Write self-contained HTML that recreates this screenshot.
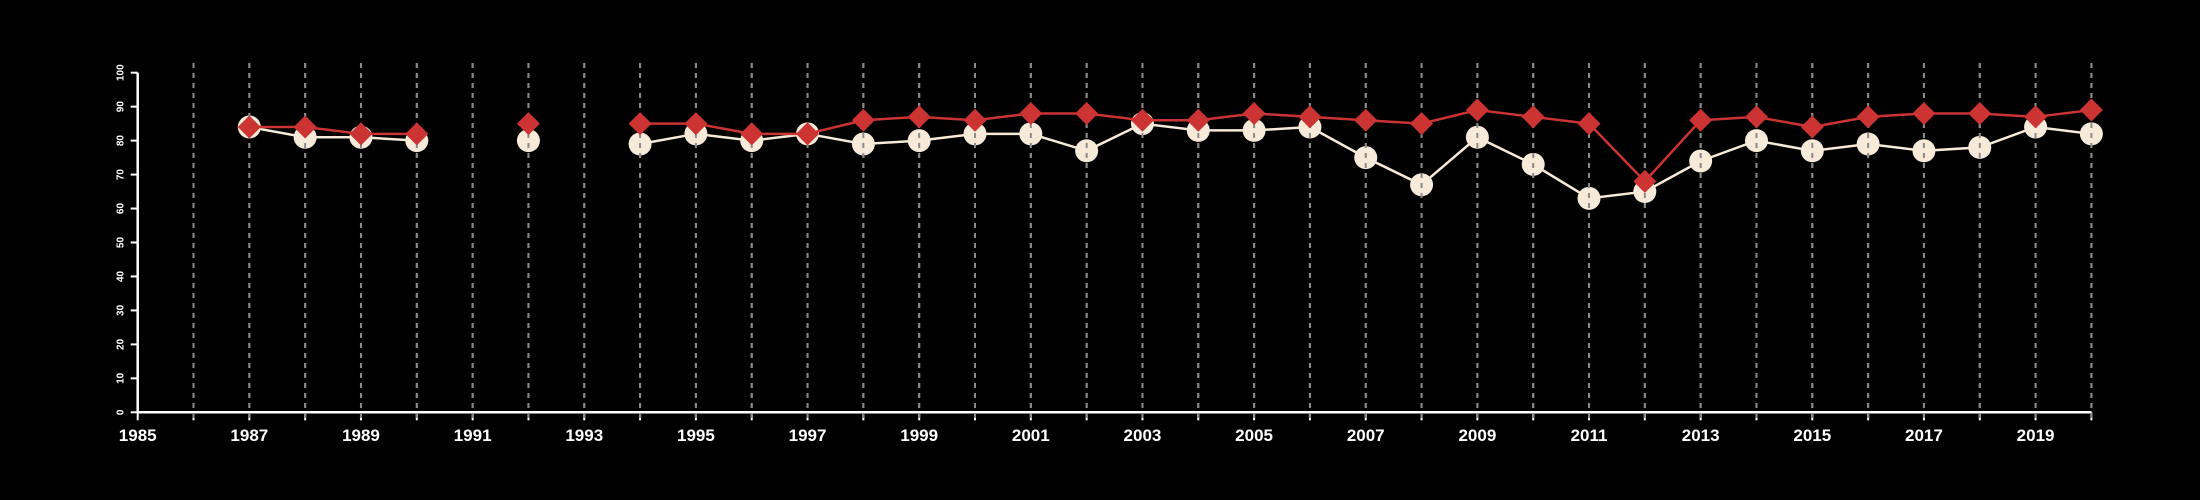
<!DOCTYPE html>
<html><head><meta charset="utf-8"><style>
html,body{margin:0;padding:0;background:#000;}
svg{display:block;}
text{font-family:"Liberation Sans",sans-serif;font-weight:bold;fill:#fff;}
</style></head><body>
<svg id="chart" width="2200" height="500" xmlns="http://www.w3.org/2000/svg">
<rect width="2200" height="500" fill="#000"/>
<g id="grid"></g>
<g id="axes"></g>
<g id="s1"></g>
<g id="grid2"></g>
<g id="s2"></g>
</svg>
<script>
const years = [1987,1988,1989,1990,1992,1994,1995,1996,1997,1998,1999,2000,2001,2002,2003,2004,2005,2006,2007,2008,2009,2010,2011,2012,2013,2014,2015,2016,2017,2018,2019,2020];
const creamValues = [84,81,81,80,80,79,82,80,82,79,80,82,82,77,85,83,83,84,75,67,81,73,63,65,74,80,77,79,77,78,84,82];
const redValues = [84,84,82,82,85,85,85,82,82,86,87,86,88,88,86,86,88,87,86,85,89,87,85,68,86,87,84,87,88,88,87,89];
const xTickLabels = [1985,1987,1989,1991,1993,1995,1997,1999,2001,2003,2005,2007,2009,2011,2013,2015,2017,2019];
const yTickLabels = [0,10,20,30,40,50,60,70,80,90,100];

const X0=137.7, PX=55.82, Y0=412.3, PY=3.396;
const xs = y => X0 + (y-1985)*PX;
const ys = v => Y0 - v*PY;
const NS='http://www.w3.org/2000/svg';
function mk(tag, parent, attrs){const e=document.createElementNS(NS,tag);for(const k in attrs)e.setAttribute(k,attrs[k]);parent.appendChild(e);return e;}
const grid=document.getElementById('grid'), grid2=document.getElementById('grid2'), axes=document.getElementById('axes');
const s1=document.getElementById('s1'), s2=document.getElementById('s2');

// grid lines
for(let y=1986;y<=2020;y++){
  for(const g of [grid,grid2]){
    const l=mk('line',g,{x1:xs(y),x2:xs(y),y1:63,y2:420,stroke:'#8a8a8a','stroke-width':2,'stroke-dasharray':'5,5'});
    
    
  }
}
// axes
let a=mk('line',axes,{x1:xs(1985),x2:xs(2020),y1:Y0,y2:Y0,stroke:'#fff','stroke-width':2.5});


a=mk('line',axes,{x1:X0,x2:X0,y1:ys(100),y2:Y0,stroke:'#fff','stroke-width':2.5});


for(let y=1985;y<=2020;y++){
  const t=mk('line',axes,{x1:xs(y),x2:xs(y),y1:Y0,y2:Y0+8,stroke:'#fff','stroke-width':2});
  
  
}
xTickLabels.forEach(y=>{
  const t=mk('text',axes,{x:xs(y),y:441,'text-anchor':'middle','font-size':17});
  t.textContent=y;
  
  
});
yTickLabels.forEach(v=>{
  const t=mk('line',axes,{x1:X0-7,x2:X0,y1:ys(v),y2:ys(v),stroke:'#fff','stroke-width':2});
  
  
  const tx=mk('text',axes,{x:0,y:0,'text-anchor':'middle','font-size':10,transform:`translate(${X0-14},${ys(v)}) rotate(-90)`});
  tx.textContent=v;
  
  
});
// polyline segments (break on gaps)
function segs(vals){const out=[];let cur=[];years.forEach((y,i)=>{if(i>0&&y-years[i-1]>1){out.push(cur);cur=[];}cur.push([xs(y),ys(vals[i])]);});out.push(cur);return out;}
segs(creamValues).forEach(s=>{if(s.length>1){const p=mk('polyline',s1,{points:s.map(q=>q.join(',')).join(' '),fill:'none',stroke:'#f8ead8','stroke-width':2.5});
  
  }});
years.forEach((y,i)=>{const c=mk('circle',s1,{cx:xs(y),cy:ys(creamValues[i]),r:11.5,fill:'#f8ead8'});
  
  });
segs(redValues).forEach(s=>{if(s.length>1){const p=mk('polyline',s2,{points:s.map(q=>q.join(',')).join(' '),fill:'none',stroke:'#cc3333','stroke-width':2.5});
  
  }});
years.forEach((y,i)=>{const cx=xs(y),cy=ys(redValues[i]),d=11.5;
  const p=mk('polygon',s2,{points:`${cx},${cy-d} ${cx+d},${cy} ${cx},${cy+d} ${cx-d},${cy}`,fill:'#cc3333'});
  
  });
</script>
</body></html>
